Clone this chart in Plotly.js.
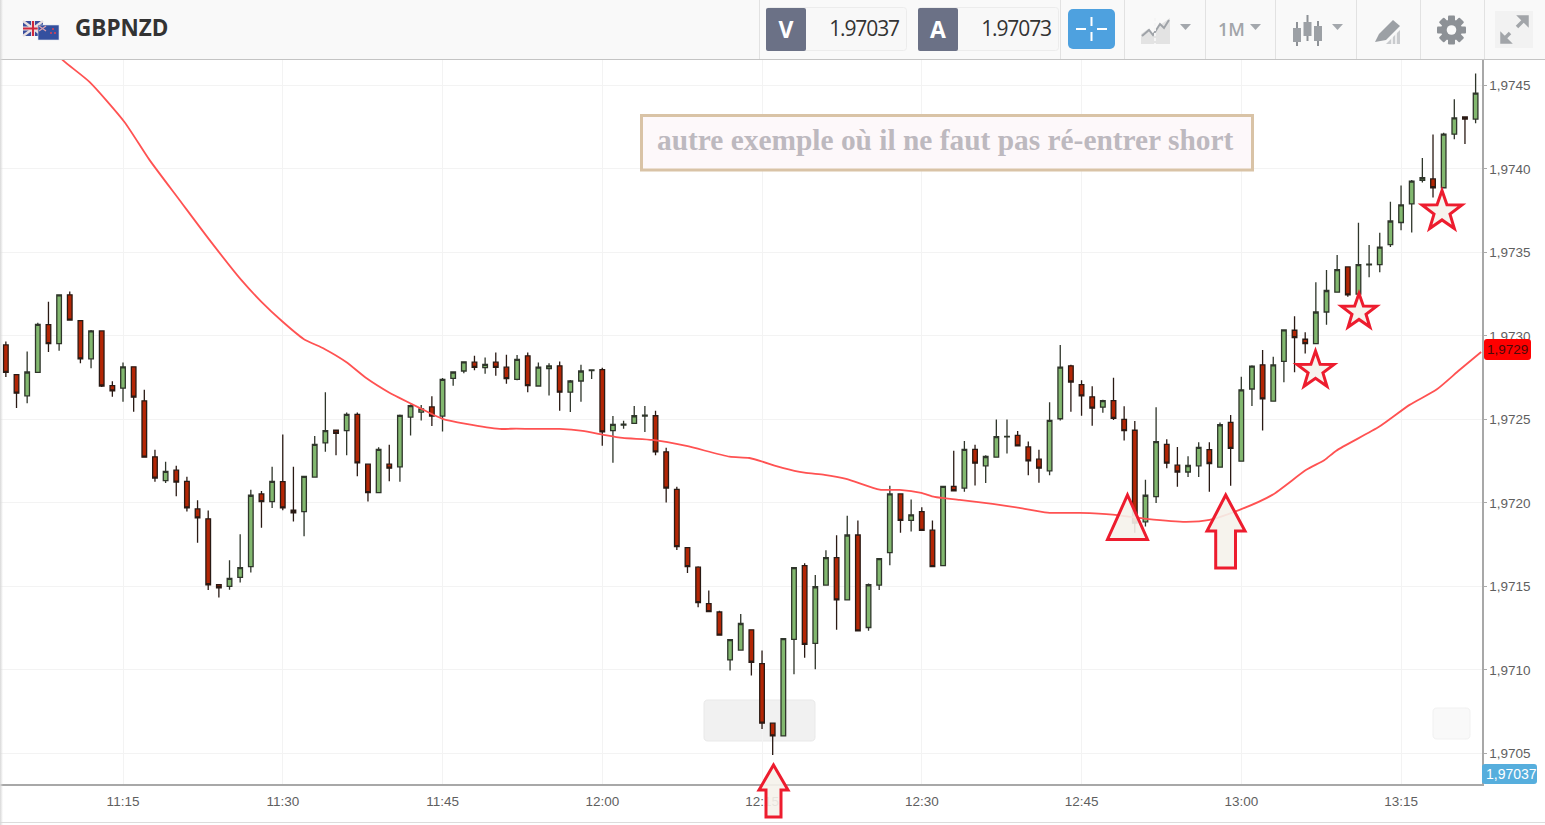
<!DOCTYPE html>
<html>
<head>
<meta charset="utf-8">
<script src="https://cdn.plot.ly/plotly-3.0.1.min.js"></script>
<style>
html,body{margin:0;padding:0;background:#fff;width:1545px;height:825px;overflow:hidden}
#chart{position:absolute;left:0;top:0;width:1545px;height:825px}
#bar{position:absolute;left:0;top:0;width:1545px;height:59px;background:#f9f9f9;border-bottom:1px solid #c4c4c4;z-index:5;font-family:"Open Sans",sans-serif}
#bar svg{position:absolute;left:0;top:0}
.t{position:absolute;white-space:nowrap}
#edge{position:absolute;left:0;top:0;width:3px;height:825px;background:linear-gradient(to right,#d8d8d8,#ffffff00);z-index:6}
#foot{position:absolute;left:0;top:822px;width:1545px;height:1px;background:#dcdcdc;z-index:1}
</style>
</head>
<body>
<div id="chart"></div>
<div id="foot"></div>
<div id="edge"></div>
<div id="bar">
<svg width="1545" height="59">
  <!-- flags -->
  <rect x="23" y="21" width="20" height="15" fill="#3b4f9c"/>
  <path d="M23 21L43 36M43 21L23 36" stroke="#e8dfe0" stroke-width="2.5"/>
  <path d="M33 21V36M23 28.5H43" stroke="#e8dfe0" stroke-width="4"/>
  <path d="M33 21V36M23 28.5H43" stroke="#d0283c" stroke-width="2"/>
  <rect x="38" y="25" width="21" height="15" fill="#34509f" stroke="#dfe3ef" stroke-width=".6"/>
  <path d="M39 26L46 31M46 26L39 31" stroke="#d9a0b0" stroke-width="1.4"/>
  <circle cx="53" cy="29" r="1" fill="#e04050"/><circle cx="55" cy="33" r="1" fill="#e04050"/><circle cx="51" cy="33" r="1" fill="#e04050"/>
  <!-- separators -->
  <g stroke="#e2e2e2" stroke-width="1">
    <path d="M759.5 0V59M1060.5 0V59M1124.5 0V59M1205.5 0V59M1275.5 0V59M1356.5 0V59M1420.5 0V59M1484.5 0V59"/>
  </g>
  <!-- V / A -->
  <rect x="766.5" y="7.5" width="140" height="43" rx="3" fill="#f8f8f8" stroke="#ececec"/>
  <rect x="766" y="8" width="40" height="43" rx="2" fill="#6b7186"/>
  <rect x="918.5" y="7.5" width="140" height="43" rx="3" fill="#f8f8f8" stroke="#ececec"/>
  <rect x="918" y="8" width="40" height="43" rx="2" fill="#6b7186"/>
  <!-- crosshair -->
  <rect x="1068" y="9" width="47" height="40" rx="5" fill="#4ea1df"/>
  <path d="M1091.5 17V26M1091.5 32V41M1076 29H1086M1097 29H1107" stroke="#fff" stroke-width="2"/>
  <!-- chart type icon -->
  <path d="M1141 44V34L1148 29L1154 35L1160 25L1170 18V44Z" fill="#e3e3e3"/>
  <path d="M1142 36L1149 30L1153 35L1160 24L1164 28L1169 20" fill="none" stroke="#9fa3a8" stroke-width="2"/>
  <path d="M1155 18V44" stroke="#f5f5f5" stroke-width="2" stroke-dasharray="3 2"/>
  <path d="M1180 24H1191L1185.5 30Z" fill="#a4a8ad"/>
  <path d="M1250 24H1261L1255.5 30Z" fill="#a4a8ad"/>
  <!-- candles icon -->
  <g stroke="#8d9196" stroke-width="2"><path d="M1297 22V46M1307.500 15V41M1318 21V46"/></g>
  <g fill="#9ca0a5"><rect x="1293" y="28" width="8" height="14"/><rect x="1303.500" y="22" width="8" height="14"/><rect x="1314" y="26" width="8" height="15"/></g>
  <path d="M1332 24H1343L1337.500 30Z" fill="#a4a8ad"/>
  <!-- drawing icon -->
  <path d="M1375 42L1379 34L1393 20L1400 26L1386 40Z" fill="#9ca0a5"/>
  <path d="M1386 44L1400 30V44Z" fill="#c9cbce"/>
  <path d="M1392 44V37M1396 44V33" stroke="#f9f9f9" stroke-width="1.500"/>
  <!-- gear -->
  <g transform="translate(1451.500 30)">
    <g fill="#8d9196"><rect x="-3.500" y="-14.500" width="7" height="29" rx="1"/><rect x="-3.500" y="-14.500" width="7" height="29" rx="1" transform="rotate(45)"/><rect x="-3.500" y="-14.500" width="7" height="29" rx="1" transform="rotate(90)"/><rect x="-3.500" y="-14.500" width="7" height="29" rx="1" transform="rotate(135)"/></g>
    <circle r="10.500" fill="#8d9196"/><circle r="4.800" fill="#f9f9f9"/>
  </g>
  <!-- expand -->
  <rect x="1495" y="11" width="38" height="37" fill="#f2f2f2"/>
  <path d="M1517 27L1524 20M1510 33L1504 39" fill="none" stroke="#a2a5a9" stroke-width="3.500"/>
  <path d="M1518 16H1528V26ZM1501 33V43H1511Z" fill="#a2a5a9" stroke="#a2a5a9" stroke-width="1.500"/>
</svg>
<div class="t" style="left:75px;top:12px;font-size:22.5px;line-height:32px;font-weight:700;color:#333">GBPNZD</div>
<div class="t" style="left:766px;top:8px;width:40px;text-align:center;font-size:23px;line-height:43px;font-weight:700;color:#fff">V</div>
<div class="t" style="left:918px;top:8px;width:40px;text-align:center;font-size:23px;line-height:43px;font-weight:700;color:#fff">A</div>
<div class="t" style="right:646px;top:12px;font-size:21px;line-height:32px;letter-spacing:-1.1px;color:#333">1.97037</div>
<div class="t" style="right:494px;top:12px;font-size:21px;line-height:32px;letter-spacing:-1.1px;color:#333">1.97073</div>
<div class="t" style="left:1218px;top:13px;font-size:18px;line-height:32px;font-weight:600;color:#a2a5a9">1M</div>
</div>
<script>
// one-minute candles, first bar at 11:04
const firstMinute = '11:04';
const openPrice = [
1.972946,1.972768,1.972641,1.972782,1.973067,1.972954,1.973246,1.973091,1.972863,1.973030,
1.972702,1.972687,1.972815,1.972611,1.972276,1.972133,1.972196,1.972129,1.971964,1.971905,
1.971510,1.971500,1.971554,1.971619,1.972054,1.972008,1.972127,1.971956,1.971948,1.972155,
1.972359,1.972435,1.972433,1.972530,1.972232,1.972062,1.972232,1.972216,1.972514,1.972544,
1.972575,1.972520,1.972746,1.972790,1.972843,1.972810,1.972843,1.972813,1.972740,1.972881,
1.972700,1.972804,1.972821,1.972663,1.972730,1.972792,1.972798,1.972433,1.972466,1.972476,
1.972520,1.972522,1.972306,1.972081,1.971732,1.971615,1.971397,1.971347,1.971060,1.971119,
1.971240,1.971038,1.970681,1.970605,1.971183,1.971625,1.971159,1.971508,1.971673,1.971419,
1.971808,1.971254,1.971508,1.971702,1.972054,1.971895,1.971948,1.971837,1.971625,1.972099,
1.972089,1.972321,1.972222,1.972274,1.972395,1.972405,1.972335,1.972262,1.972192,1.972504,
1.972821,1.972708,1.972635,1.972573,1.972613,1.972500,1.972435,1.971887,1.972038,1.972351,
1.972226,1.972185,1.972222,1.972319,1.972214,1.972482,1.972250,1.972682,1.972827,1.972609,
1.972847,1.973034,1.972980,1.972954,1.973143,1.973262,1.973413,1.973250,1.973425,1.973427,
1.973546,1.973679,1.973790,1.973932,1.973940,1.973887,1.974208,1.974311,1.974298];
const closePrice = [
1.972782,1.972657,1.972784,1.973069,1.972954,1.973246,1.973095,1.972863,1.973030,1.972700,
1.972671,1.972814,1.972633,1.972274,1.972149,1.972189,1.972125,1.971970,1.971911,1.971510,
1.971492,1.971548,1.971613,1.972046,1.972008,1.972129,1.971970,1.971941,1.972159,1.972351,
1.972433,1.972417,1.972530,1.972240,1.972062,1.972321,1.972208,1.972524,1.972583,1.972563,
1.972520,1.972740,1.972784,1.972845,1.972811,1.972829,1.972811,1.972744,1.972859,1.972702,
1.972813,1.972821,1.972663,1.972730,1.972790,1.972796,1.972425,1.972470,1.972472,1.972522,
1.972526,1.972306,1.972089,1.971738,1.971619,1.971403,1.971349,1.971208,1.971181,1.971278,
1.971046,1.970681,1.970605,1.971187,1.971613,1.971153,1.971498,1.971673,1.971419,1.971808,
1.971234,1.971510,1.971667,1.972054,1.971895,1.971929,1.971835,1.971619,1.972099,1.972073,
1.972321,1.972238,1.972278,1.972397,1.972399,1.972341,1.972252,1.972208,1.972494,1.972813,
1.972724,1.972641,1.972567,1.972613,1.972506,1.972433,1.971879,1.972046,1.972367,1.972238,
1.972185,1.972224,1.972333,1.972236,1.972468,1.972327,1.972677,1.972819,1.972623,1.972827,
1.973036,1.972990,1.972954,1.973143,1.973272,1.973397,1.973246,1.973427,1.973429,1.973532,
1.973688,1.973784,1.973927,1.973948,1.973887,1.974208,1.974305,1.974298,1.974454];
const highPrice = [
1.972966,1.972772,1.972907,1.973079,1.973204,1.973250,1.973266,1.973093,1.973036,1.973032,
1.972728,1.972841,1.972817,1.972677,1.972319,1.972246,1.972222,1.972157,1.972016,1.971954,
1.971512,1.971657,1.971812,1.972079,1.972071,1.972216,1.972409,1.972216,1.972163,1.972401,
1.972663,1.972440,1.972542,1.972542,1.972236,1.972333,1.972349,1.972530,1.972589,1.972587,
1.972639,1.972748,1.972788,1.972847,1.972881,1.972871,1.972901,1.972887,1.972885,1.972901,
1.972841,1.972837,1.972847,1.972736,1.972827,1.972796,1.972810,1.972520,1.972492,1.972581,
1.972581,1.972552,1.972331,1.972097,1.971734,1.971621,1.971476,1.971355,1.971185,1.971335,
1.971244,1.971117,1.970682,1.971190,1.971617,1.971639,1.971569,1.971716,1.971806,1.971923,
1.971895,1.971518,1.971669,1.972103,1.972056,1.972020,1.971974,1.971895,1.972103,1.972312,
1.972371,1.972349,1.972286,1.972500,1.972500,1.972431,1.972367,1.972319,1.972603,1.972946,
1.972827,1.972734,1.972698,1.972617,1.972750,1.972579,1.972490,1.972139,1.972573,1.972381,
1.972335,1.972280,1.972363,1.972363,1.972482,1.972526,1.972756,1.972825,1.972915,1.972875,
1.973040,1.973117,1.973022,1.973321,1.973395,1.973484,1.973415,1.973677,1.973544,1.973617,
1.973804,1.973901,1.973934,1.974065,1.974206,1.974216,1.974417,1.974313,1.974571];
const lowPrice = [
1.972754,1.972569,1.972597,1.972778,1.972903,1.972911,1.973091,1.972837,1.972806,1.972694,
1.972635,1.972605,1.972546,1.972270,1.972127,1.972119,1.972040,1.971948,1.971762,1.971478,
1.971433,1.971480,1.971524,1.971583,1.971851,1.971970,1.971956,1.971889,1.971800,1.972151,
1.972306,1.972286,1.972286,1.972159,1.972008,1.972060,1.972129,1.972127,1.972403,1.972494,
1.972460,1.972427,1.972702,1.972776,1.972794,1.972774,1.972762,1.972714,1.972734,1.972663,
1.972696,1.972643,1.972552,1.972544,1.972605,1.972742,1.972343,1.972240,1.972444,1.972474,
1.972425,1.972286,1.972002,1.971718,1.971581,1.971375,1.971347,1.971204,1.970996,1.971117,
1.970966,1.970647,1.970490,1.970603,1.970974,1.971073,1.971004,1.971506,1.971240,1.971417,
1.971230,1.971234,1.971478,1.971627,1.971821,1.971829,1.971833,1.971617,1.971623,1.972069,
1.972067,1.972105,1.972119,1.972272,1.972296,1.972339,1.972165,1.972121,1.972165,1.972494,
1.972546,1.972522,1.972462,1.972540,1.972496,1.972373,1.971821,1.971859,1.972000,1.972208,
1.972097,1.972155,1.972155,1.972067,1.972212,1.972103,1.972246,1.972581,1.972433,1.972607,
1.972722,1.972782,1.972895,1.972950,1.973067,1.973260,1.973234,1.973244,1.973351,1.973381,
1.973532,1.973633,1.973619,1.973919,1.973829,1.973883,1.974178,1.974149,1.974274];

// moving average, minutes after 11:15 and price
const maMinutes = [-6.9,-5.68,-3.15,0.14,2.49,5.31,8.12,11.1,13,14.98,16.95,18.92,20.96,22.84,25.02,25.96,27.84,30,32.23,35.35,36.92,38.45,40.99,43.15,45.03,46.9,49.72,52.91,56.95,58.83,61.92,63.99,65.87,67.91,71.06,72.93,74.95,76.2,78.55,81.65,84.18,86.81,89.82,92.92,96.11,99.83,102.02,104.84,107.93,111.1,112.82,113.92,117.98,120.8,123.31,125.49,127.53];
const maPrice = [1.974742,1.974653,1.974521,1.974281,1.974054,1.973814,1.973575,1.973335,1.973204,1.973086,1.972982,1.972922,1.972844,1.972748,1.972660,1.972629,1.972569,1.972503,1.972473,1.972443,1.972445,1.972443,1.972443,1.972431,1.972409,1.972389,1.972377,1.972341,1.972277,1.972269,1.972210,1.972181,1.972168,1.972144,1.972080,1.972078,1.972060,1.972036,1.972018,1.971994,1.971970,1.971942,1.971940,1.971930,1.971904,1.971886,1.971898,1.971958,1.972048,1.972198,1.972257,1.972313,1.972457,1.972587,1.972677,1.972796,1.972904];

const yTicks = [1.9705,1.971,1.9715,1.972,1.9725,1.973,1.9735,1.974,1.9745];
const yRange = [1.970317,1.974652];
const annotationText = 'autre exemple où il ne faut pas ré-entrer short';
const lastMaLabel = '1,9729';
const bidLabel = '1,97037';

function stamp(minAfter1115){
  const ms = Date.UTC(2017,2,1,11,15,0) + Math.round(minAfter1115*60000);
  return new Date(ms).toISOString().slice(0,19).replace('T',' ');
}
const startOffset = parseInt(firstMinute.slice(3)) - 15;
const times = openPrice.map((_,i)=>stamp(startOffset+i));

// helpers for the hand-drawn overlays (screen pixels -> paper fractions)
const PW=1482, PH=724, PT=60;
const X=p=>(p/PW).toFixed(5), Y=p=>((PT+PH-p)/PH).toFixed(5);
const poly=pts=>'M'+pts.map(p=>X(p[0])+' '+Y(p[1])).join('L')+'Z';
function rrect(x0,y0,x1,y1,r){
  return 'M'+X(x0+r)+' '+Y(y0)+'L'+X(x1-r)+' '+Y(y0)+'Q'+X(x1)+' '+Y(y0)+' '+X(x1)+' '+Y(y0+r)+
    'L'+X(x1)+' '+Y(y1-r)+'Q'+X(x1)+' '+Y(y1)+' '+X(x1-r)+' '+Y(y1)+'L'+X(x0+r)+' '+Y(y1)+
    'Q'+X(x0)+' '+Y(y1)+' '+X(x0)+' '+Y(y1-r)+'L'+X(x0)+' '+Y(y0+r)+'Q'+X(x0)+' '+Y(y0)+' '+X(x0+r)+' '+Y(y0)+'Z';
}
function star(cx,cy,R){
  const pts=[];
  for(let i=0;i<10;i++){
    const r=i%2?R*0.4:R, a=-Math.PI/2+i*Math.PI/5;
    pts.push([cx+r*Math.cos(a),cy+r*Math.sin(a)]);
  }
  return poly(pts);
}
const RED='#ed1c2e', CREAM='rgba(245,242,235,0.9)';
const redShape=(path)=>({type:'path',xref:'paper',yref:'paper',path,line:{color:RED,width:3},fillcolor:CREAM,layer:'above'});
const shapes=[
  {type:'path',xref:'paper',yref:'paper',path:rrect(704,700,815,741,4),fillcolor:'#f1f1f1',line:{color:'#e9e9e9',width:1},layer:'below'},
  {type:'path',xref:'paper',yref:'paper',path:rrect(1433,708,1470,739,4),fillcolor:'#f9f9f9',line:{color:'#f1f1f1',width:1},layer:'below'},
  {type:'rect',xref:'paper',yref:'paper',x0:X(641.5),x1:X(1252.5),y0:Y(170),y1:Y(115.5),fillcolor:'#fdf8fa',line:{color:'#d9c3a6',width:3},layer:'above'},
  redShape(poly([[773.5,765],[788,790],[781,790],[781,817],[766,817],[766,790],[759,790]])),
  redShape(poly([[1225.7,495],[1245,531],[1235.5,531],[1235.5,568],[1215.7,568],[1215.7,531],[1207,531]])),
  redShape(poly([[1127.5,495],[1147.500,539.500],[1107.500,539.500]])),
  redShape(star(1315.5,370.5,19.5)),
  redShape(star(1359,312,18.5)),
  redShape(star(1442,211.5,21)),
  {type:'path',xref:'paper',yref:'paper',path:rrect(1484,339,1531,360,3),fillcolor:'#fe0000',line:{width:0},layer:'above'},
  {type:'path',xref:'paper',yref:'paper',path:rrect(1482,764,1537,784,3),fillcolor:'#56aedd',line:{width:0},layer:'above'}
];
const annotations=[
  {xref:'paper',yref:'paper',x:X(945.5),y:Y(140),text:'<b>'+annotationText+'</b>',showarrow:false,xanchor:'center',yanchor:'middle',
   font:{family:'"Liberation Serif",serif',size:29.4,color:'#bdb9bf'}},
  {xref:'paper',yref:'paper',x:X(1507.5),y:Y(349.5),text:lastMaLabel,showarrow:false,xanchor:'center',yanchor:'middle',
   font:{family:'"Liberation Sans",Arial,sans-serif',size:13.5,color:'#4a0a0a'}},
  {xref:'paper',yref:'paper',x:X(1511),y:Y(774),text:bidLabel,showarrow:false,xanchor:'center',yanchor:'middle',
   font:{family:'"Liberation Sans",Arial,sans-serif',size:14,color:'#ffffff'}}
];

const data=[
  {type:'scatter',mode:'lines',x:maMinutes.map(stamp),y:maPrice,line:{color:'#ff5252',width:1.8,shape:'spline',smoothing:0.6},hoverinfo:'skip',showlegend:false},
  {type:'candlestick',x:times,open:openPrice,high:highPrice,low:lowPrice,close:closePrice,whiskerwidth:0,
   increasing:{line:{color:'#2f362b',width:1.3},fillcolor:'#82b86f'},
   decreasing:{line:{color:'#2a1a14',width:1.3},fillcolor:'#b32605'},
   showlegend:false,hoverinfo:'skip'}
];
const layout={
  width:1545,height:825,autosize:false,
  margin:{l:0,r:63,t:60,b:41,pad:0},
  paper_bgcolor:'#ffffff',plot_bgcolor:'#ffffff',
  separators:',.',showlegend:false,boxgap:0.38,
  font:{family:'"Liberation Sans",Arial,sans-serif',size:13.5,color:'#5f5f5f'},
  xaxis:{type:'date',range:[stamp(-11.55),stamp(127.6)],rangeslider:{visible:false},
    tick0:stamp(0),dtick:900000,tickformat:'%H:%M',ticks:'',showgrid:true,gridcolor:'#f3f3f3',gridwidth:1,
    showline:true,linecolor:'#a8a8a8',linewidth:1.5,zeroline:false,ticklabelstandoff:4,
    tickfont:{family:'"Liberation Sans",Arial,sans-serif',size:13.5,color:'#5f5f5f'}},
  yaxis:{side:'right',range:yRange,tickmode:'array',tickvals:yTicks,tickformat:'.4f',
    ticks:'outside',ticklen:3,tickcolor:'#aaa',tickwidth:1,showgrid:true,gridcolor:'#f3f3f3',gridwidth:1,
    showline:true,linecolor:'#a8a8a8',linewidth:1.5,zeroline:false,
    tickfont:{family:'"Liberation Sans",Arial,sans-serif',size:13.5,color:'#5f5f5f'}},
  shapes,annotations
};
Plotly.newPlot('chart',data,layout,{displayModeBar:false,staticPlot:true});
</script>
</body>
</html>
